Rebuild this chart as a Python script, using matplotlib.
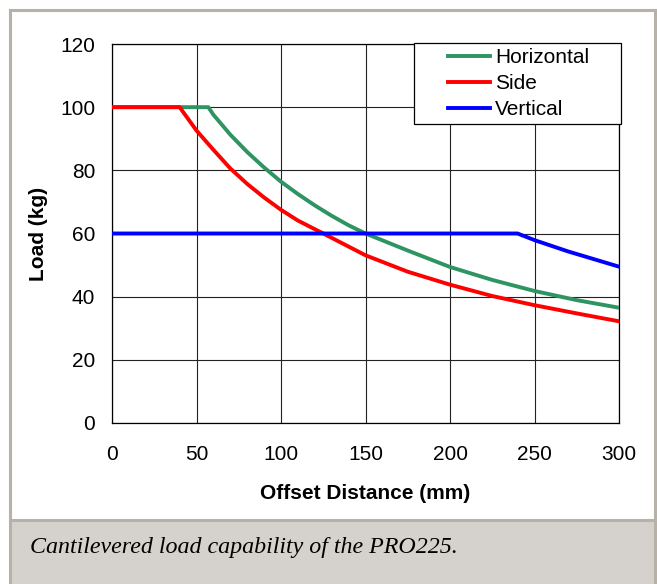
import matplotlib.pyplot as plt
from matplotlib.patches import Rectangle

# values
horiz_x = [0, 57, 60, 70, 80, 90, 100, 110, 120, 130, 140, 150, 175, 200, 225, 250, 275, 300]
horiz_y = [100, 100, 97.6, 91.3, 85.8, 80.9, 76.4, 72.5, 68.9, 65.6, 62.6, 60, 54.6, 49.4, 45.3, 41.8, 38.9, 36.5]

side_x = [0, 40, 50, 60, 70, 80, 90, 100, 110, 125, 150, 175, 200, 225, 250, 275, 300]
side_y = [100, 100, 92.6, 86.5, 80.6, 75.7, 71.4, 67.5, 64.1, 60, 53.1, 47.9, 43.8, 40.2, 37.3, 34.7, 32.2]

vert_x = [0, 240, 250, 260, 270, 280, 290, 300]
vert_y = [60, 60, 57.9, 56.1, 54.3, 52.7, 51.1, 49.5]

x_ticks = [0, 50, 100, 150, 200, 250, 300]
y_ticks = [0, 20, 40, 60, 80, 100, 120]

plt.rcParams['font.family'] = ['Liberation Sans', 'DejaVu Sans']

W, H = 657, 584
fig = plt.figure(figsize=(W / 100, H / 100), dpi=100)

# caption band and outer frame
border = '#b7b1a8'
fig.patches.append(Rectangle((10 / W, 0), 645 / W, 1 - 520 / H, transform=fig.transFigure,
                             facecolor='#d5d2cd', edgecolor='none', zorder=0))
fig.add_artist(plt.Line2D([10 / W, 10 / W], [0, 1 - 10 / H], color=border, lw=2.2, transform=fig.transFigure))
fig.add_artist(plt.Line2D([655 / W, 655 / W], [0, 1 - 10 / H], color=border, lw=2.2, transform=fig.transFigure))
fig.add_artist(plt.Line2D([10 / W, 655 / W], [1 - 10 / H, 1 - 10 / H], color=border, lw=2.2, transform=fig.transFigure))
fig.add_artist(plt.Line2D([10 / W, 655 / W], [1 - 520 / H, 1 - 520 / H], color=border, lw=2.2, transform=fig.transFigure))

fig.text(30 / W, 1 - 547 / H, 'Cantilevered load capability of the PRO225.',
         family='Liberation Serif', style='italic', fontsize=17.3, va='center', ha='left')

ax = fig.add_axes([112 / W, 1 - 423 / H, 507 / W, 379 / H])
ax.plot(horiz_x, horiz_y, color='#2e9461', lw=2.8, label='Horizontal', zorder=3)
ax.plot(side_x, side_y, color='#ff0000', lw=2.8, label='Side', zorder=3)
ax.plot(vert_x, vert_y, color='#0000ff', lw=2.8, label='Vertical', zorder=3)

ax.set_xlim(0, 300)
ax.set_ylim(0, 120)
ax.set_xticks(x_ticks)
ax.set_yticks(y_ticks)
ax.grid(True, color='#222222', lw=0.8)
ax.tick_params(length=0, labelsize=15)
ax.tick_params(axis='x', pad=16)
ax.tick_params(axis='y', pad=12)
for s in ax.spines.values():
    s.set_linewidth(0.9)

ax.set_xlabel('Offset Distance (mm)', fontsize=15, fontweight='bold', labelpad=14)
ax.set_ylabel('Load (kg)', fontsize=15, fontweight='bold', labelpad=9)

# legend box (Excel style: wide side padding)
ax.add_patch(Rectangle((414 / W, 1 - 124 / H), 207 / W, 81 / H, transform=fig.transFigure,
                       facecolor='white', edgecolor='black', lw=0.9, zorder=4, clip_on=False))
leg = ax.legend(loc='upper left', bbox_to_anchor=(444 / W, 1 - 44 / H), bbox_transform=fig.transFigure,
                frameon=False, fontsize=15, handlelength=2.0, handletextpad=0.25,
                labelspacing=0.33, borderpad=0.2, borderaxespad=0)
leg.set_zorder(5)

fig.savefig('out.png', dpi=100)
